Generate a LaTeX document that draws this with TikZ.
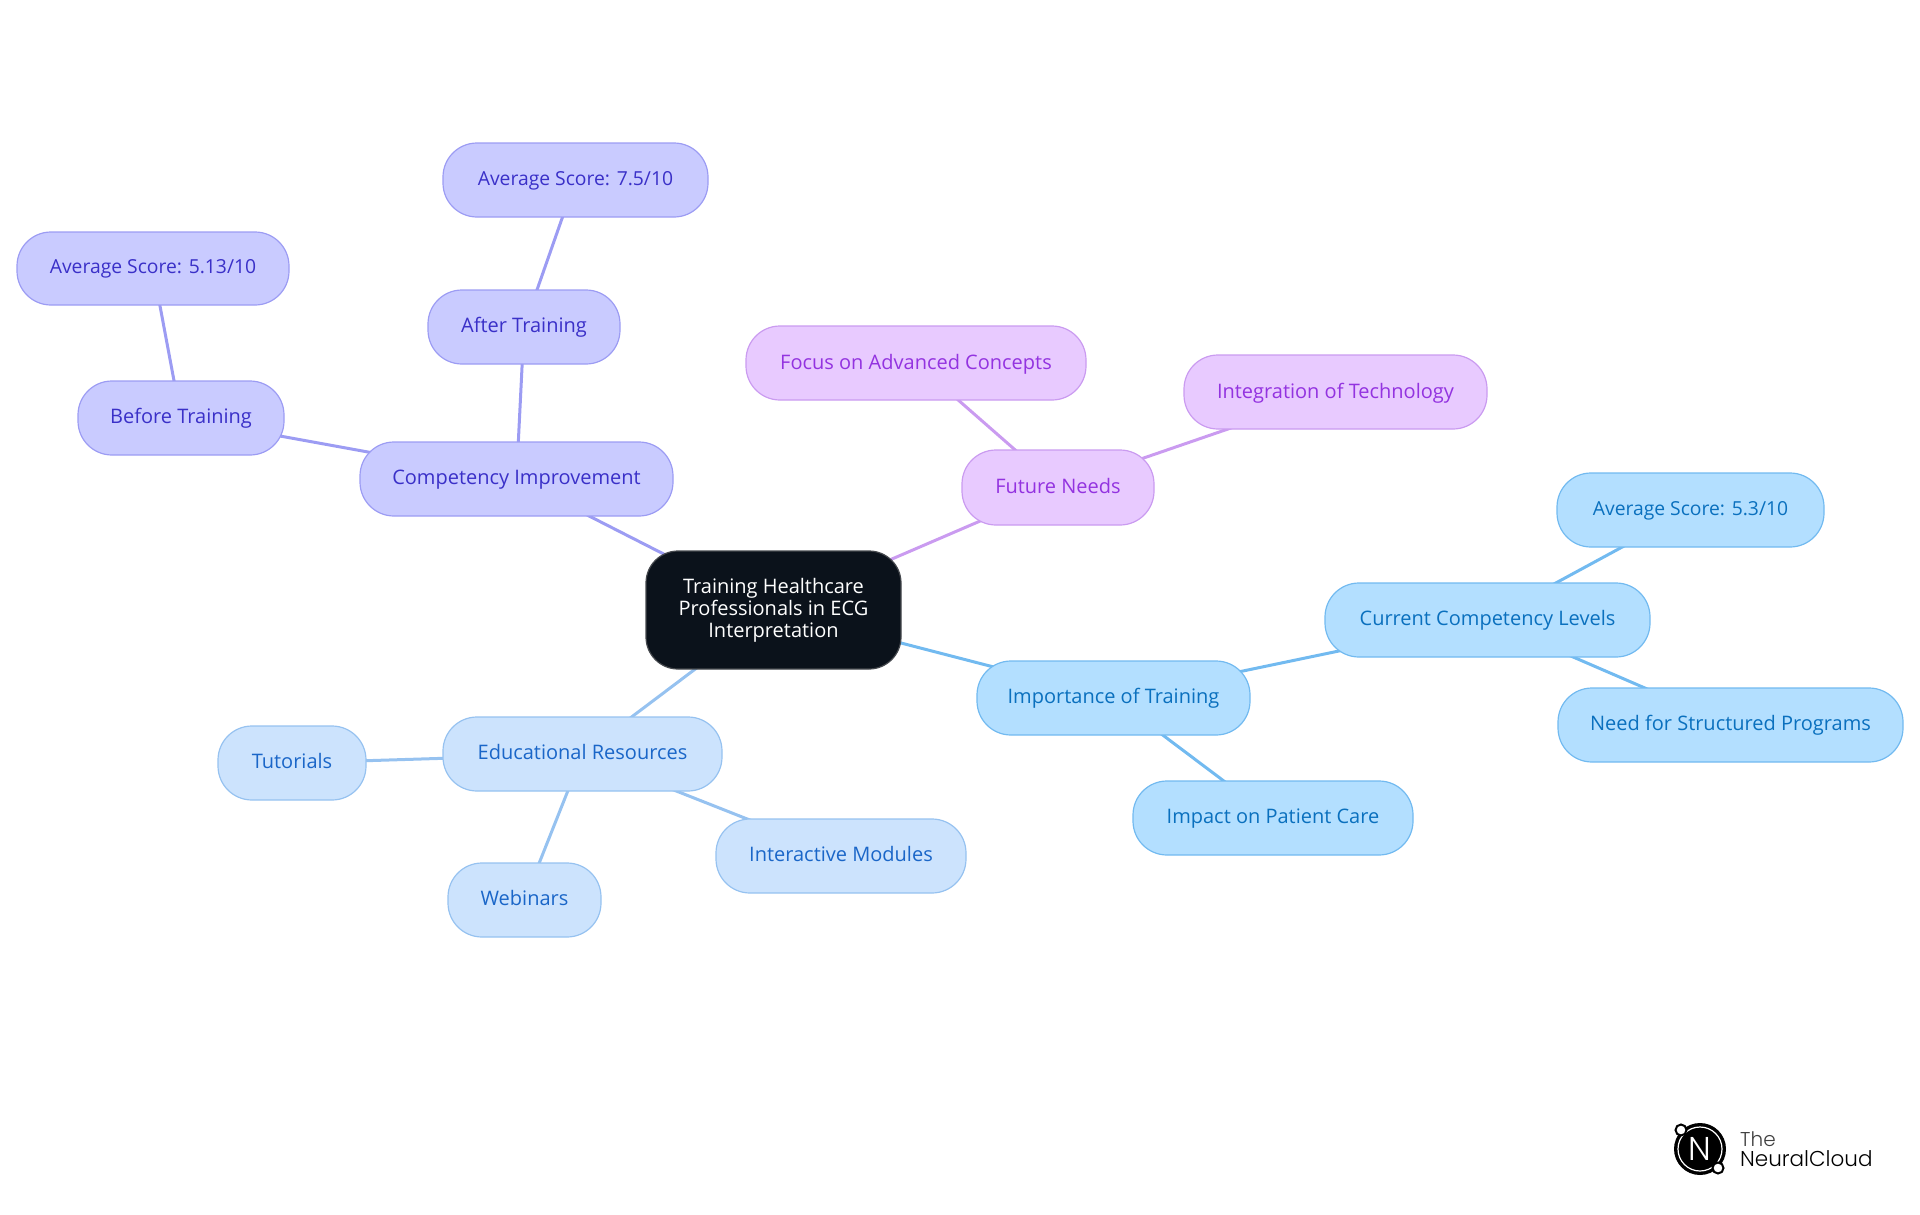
\documentclass[tikz,border=0pt]{standalone}
\usepackage{fontspec}
\setmainfont{Open Sans}
\newfontfamily\logofont{Poppins Light}
\usetikzlibrary{backgrounds}
\definecolor{rootfill}{HTML}{0B121B}
\definecolor{rootline}{HTML}{45484D}
\definecolor{purfill}{HTML}{E8CAFF}
\definecolor{purline}{HTML}{CA9BF0}
\definecolor{purtext}{HTML}{9333E0}
\definecolor{indfill}{HTML}{C9CBFF}
\definecolor{indline}{HTML}{9C9CF3}
\definecolor{indtext}{HTML}{3A30C8}
\definecolor{ligfill}{HTML}{CCE3FD}
\definecolor{ligline}{HTML}{96C2F0}
\definecolor{ligtext}{HTML}{1A66C8}
\definecolor{skyfill}{HTML}{B3DFFF}
\definecolor{skyline}{HTML}{72BAF0}
\definecolor{skytext}{HTML}{0A70BE}
\tikzset{
  x=1pt,y=-1pt,
  box/.style={draw,rounded corners=34pt,line width=1.2pt,inner sep=0pt,align=center,
    font=\fontsize{20}{22}\selectfont,text height=15.2pt,text depth=4.8pt},
  rootbox/.style={box,fill=rootfill,draw=rootline,text=white,rounded corners=32pt,text height=,text depth=},
  purbox/.style={box,fill=purfill,draw=purline,text=purtext,text height=16pt,text depth=4pt},
  indbox/.style={box,fill=indfill,draw=indline,text=indtext},
  ligbox/.style={box,fill=ligfill,draw=ligline,text=ligtext},
  skybox/.style={box,fill=skyfill,draw=skyline,text=skytext},
  scorefont/.style={font=\fontsize{19.3}{22}\selectfont},
  link/.style={line width=3pt},
}
\newcommand{\nbox}[6]{\node[#1,minimum width=#5 pt - #3 pt,minimum height=#6 pt - #4 pt] (#2) at ({(#3+#5)/2},{(#4+#6)/2})}
\begin{document}
\begin{tikzpicture}
\useasboundingbox (0,0) rectangle (1920,1215);
\nbox{rootbox}{root}{646}{551}{901}{669} {Training Healthcare\\Professionals in ECG\\Interpretation};
\nbox{purbox}{future}{962}{450}{1154}{525} {Future Needs};
\nbox{purbox}{integ}{1184}{355}{1487}{429} {Integration of Technology};
\nbox{purbox}{focus}{746}{326}{1086}{400} {Focus on Advanced Concepts};
\nbox{indbox}{comp}{360}{442}{673}{516} {Competency Improvement};
\nbox{indbox}{after}{428}{290}{620}{364} {After Training};
\nbox{indbox,scorefont}{avgb}{443}{143}{708}{217} {Average Score: 7.5/10};
\nbox{indbox}{before}{78}{381}{284}{455} {Before Training};
\nbox{indbox,scorefont}{avga}{17}{232}{289}{305} {Average Score: 5.13/10};
\nbox{ligbox}{edu}{443}{717}{722}{791} {Educational Resources};
\nbox{ligbox}{tut}{218}{726}{366}{800} {Tutorials};
\nbox{ligbox}{web}{448}{863}{601}{937} {Webinars};
\nbox{ligbox}{inter}{716}{819}{966}{893} {Interactive Modules};
\nbox{skybox}{imp}{977}{661}{1250}{735} {Importance of Training};
\nbox{skybox}{care}{1133}{781}{1413}{855} {Impact on Patient Care};
\nbox{skybox}{cur}{1325}{583}{1650}{657} {Current Competency Levels};
\nbox{skybox,scorefont}{avgc}{1557}{473}{1824}{547} {Average Score: 5.3/10};
\nbox{skybox}{need}{1558}{688}{1903}{762} {Need for Structured Programs};
\begin{scope}[on background layer]
\draw[link,draw=purline] (root.center)--(future.center) (future.center)--(integ.center) (future.center)--(focus.center);
\draw[link,draw=indline] (root.center)--(comp.center) (comp.center)--(after.center) (after.center)--(avgb.center) (comp.center)--(before.center) (before.center)--(avga.center);
\draw[link,draw=ligline] (root.center)--(edu.center) (edu.center)--(tut.center) (edu.center)--(web.center) (edu.center)--(inter.center);
\draw[link,draw=skyline] (root.center)--(imp.center) (imp.center)--(care.center) (imp.center)--(cur.center) (cur.center)--(avgc.center) (cur.center)--(need.center);
\end{scope}
% logo
\node[circle,fill=black,minimum size=52pt,inner sep=0pt] (logo) at (1700,1149) {};
\node[circle,draw=white,line width=1.2pt,minimum size=44pt,inner sep=0pt] (ring) at (logo.center) {};
\node[text=white,font=\logofont\fontsize{33}{33}\selectfont] (logoN) at (logo.center) {N};
\node[circle,draw=black,fill=white,line width=2pt,minimum size=11pt,inner sep=0pt] (dota) at (1681,1130) {};
\node[circle,draw=black,fill=white,line width=2pt,minimum size=11pt,inner sep=0pt] (dotb) at (1718,1168) {};
\node[anchor=base west,inner sep=0pt,text=black!75,font=\logofont\fontsize{20}{20}\selectfont] (logoa) at (1740,1146) {The};
\node[anchor=base west,inner sep=0pt,text=black,font=\logofont\fontsize{21.5}{21.5}\selectfont] (logob) at (1740,1166) {NeuralCloud};
\end{tikzpicture}
\end{document}
